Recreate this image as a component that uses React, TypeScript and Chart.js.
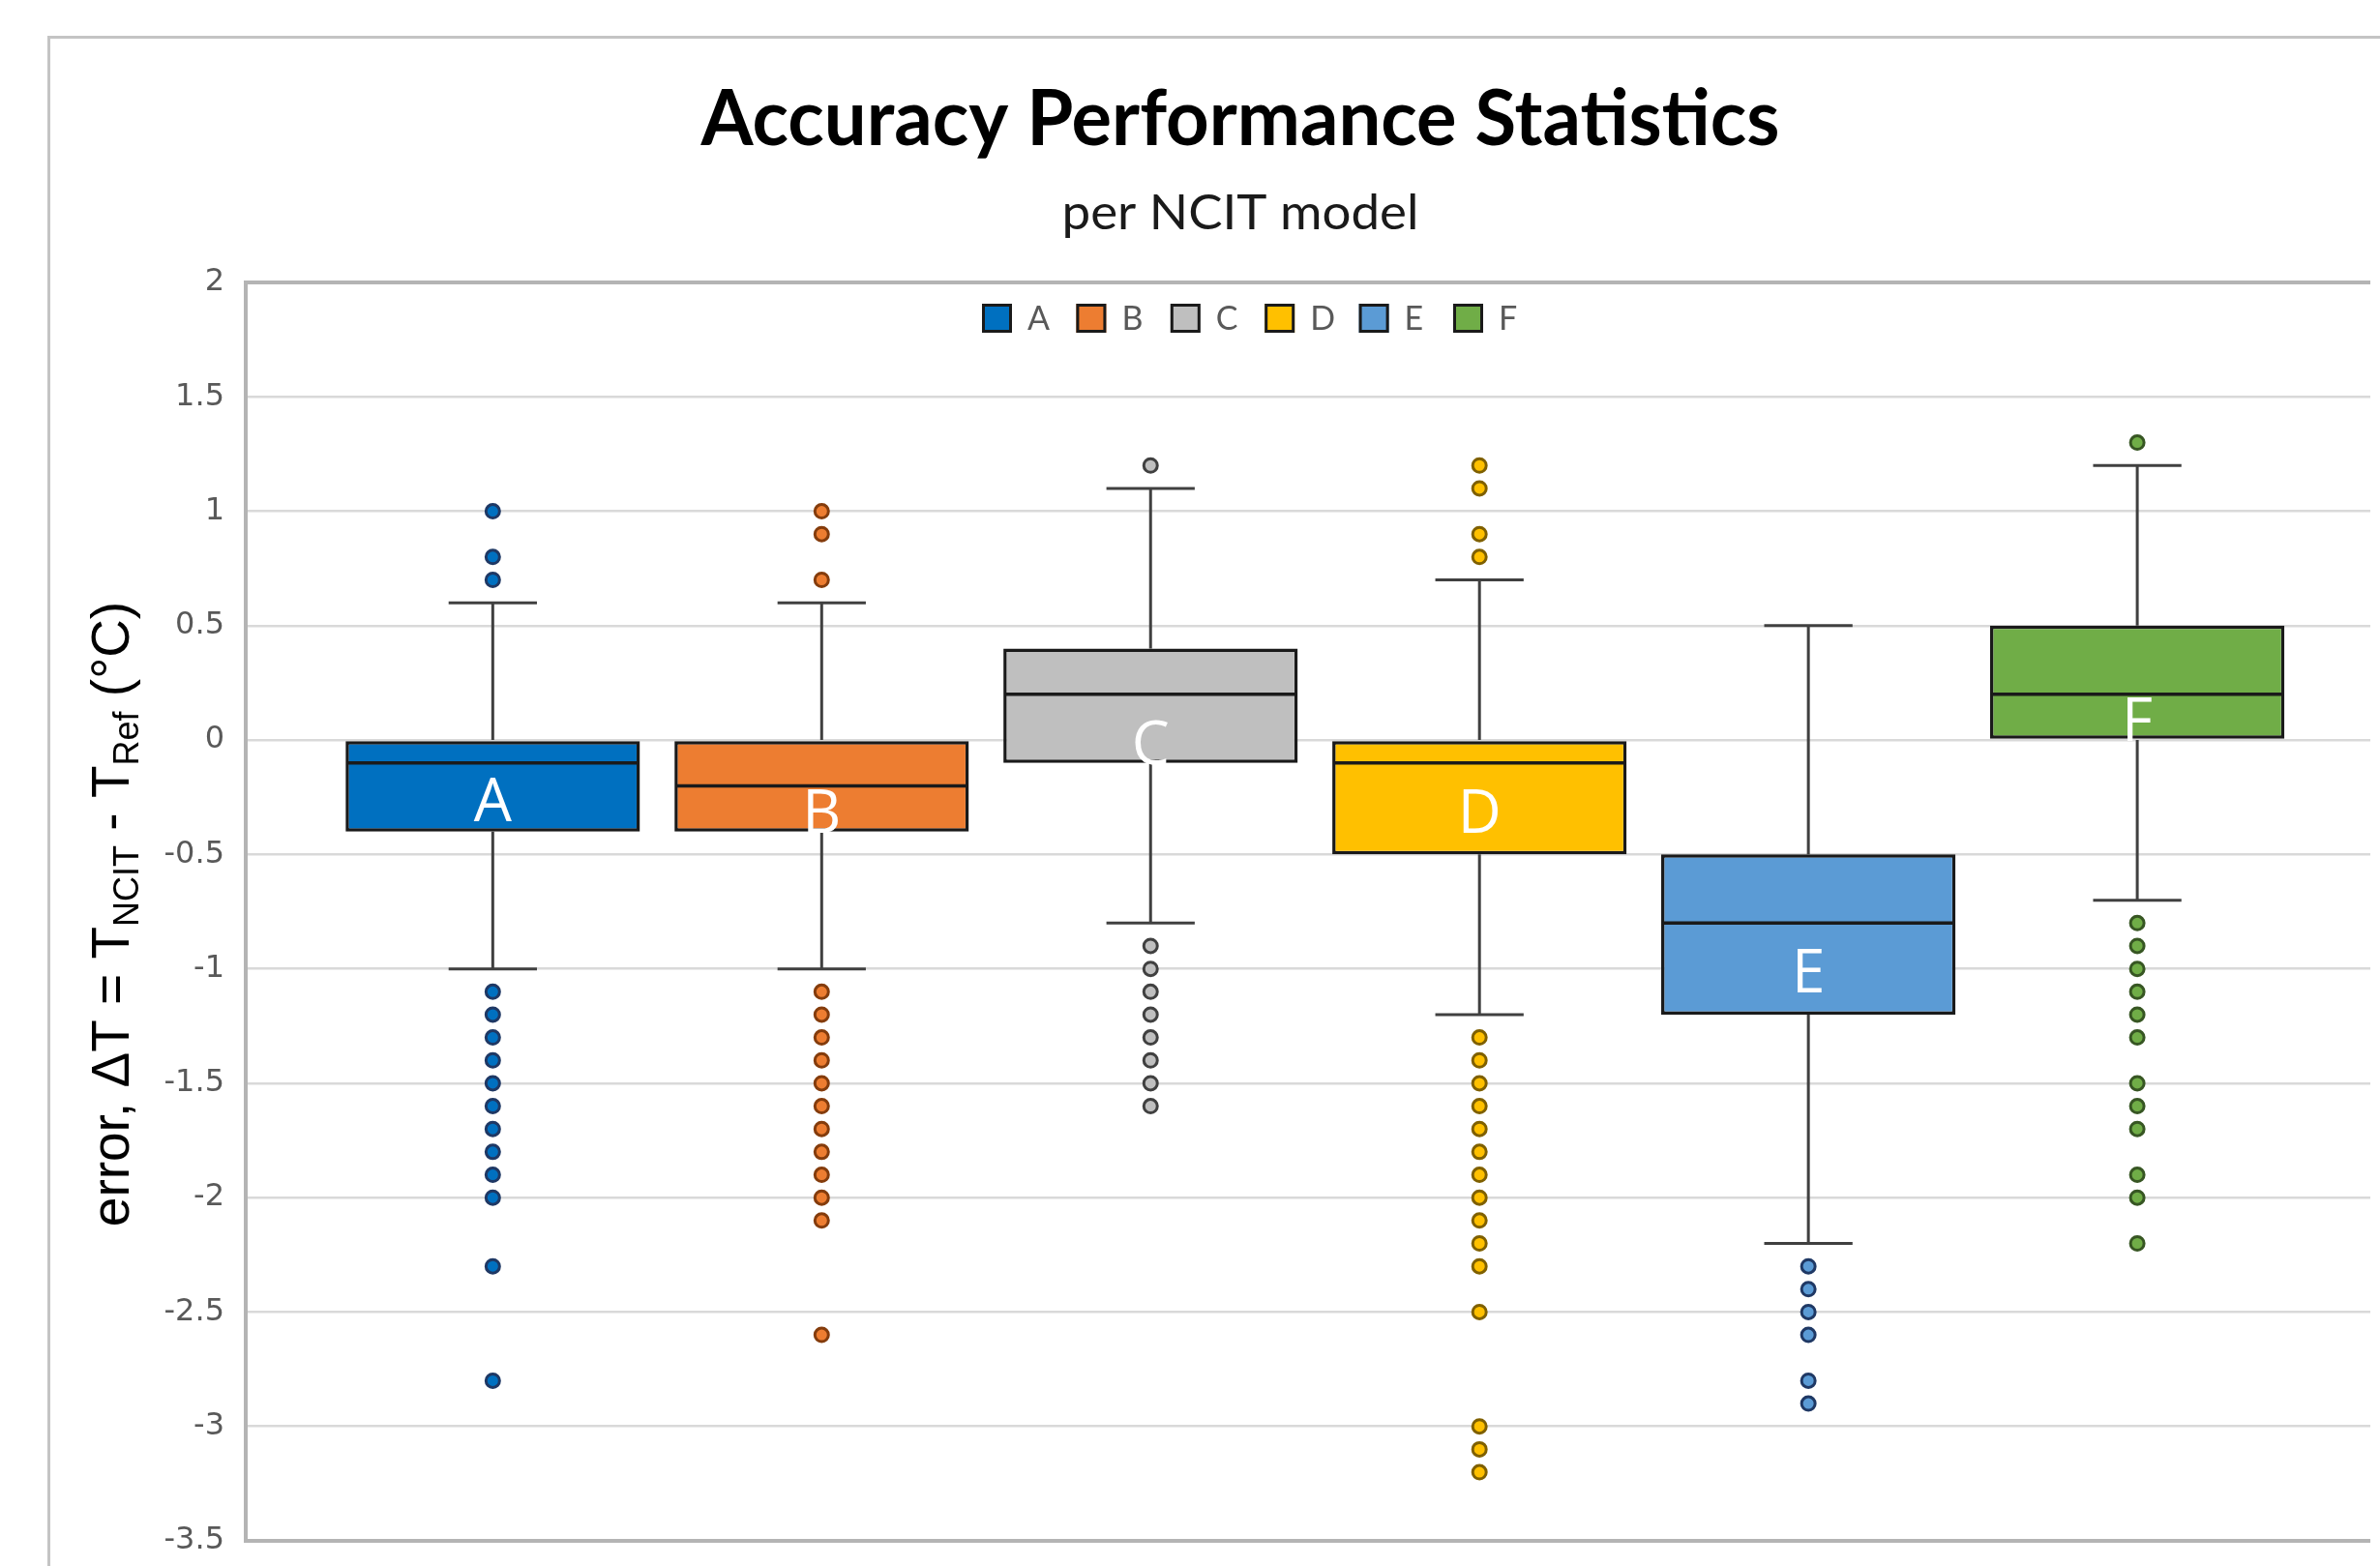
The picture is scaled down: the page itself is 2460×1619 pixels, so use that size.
import React, { useEffect, useRef } from 'react';
import { Chart, registerables } from 'chart.js';

Chart.register(...registerables);

// ---------------- data ----------------
const categories = ['A', 'B', 'C', 'D', 'E', 'F'];
const positions = [1, 2, 3, 4, 5, 6];
const boxColors = ['#0070C0', '#ED7D31', '#BFBFBF', '#FFC000', '#5B9BD5', '#70AD47'];
const dotEdgeColors = ['#1F3864', '#843C0C', '#404040', '#7F6000', '#1F3864', '#375623'];

const q1Values = [-0.4, -0.4, -0.1, -0.5, -1.2, 0.0];
const q3Values = [0.0, 0.0, 0.4, 0.0, -0.5, 0.5];
const medianValues = [-0.1, -0.2, 0.2, -0.1, -0.8, 0.2];
const whiskerLowValues = [-1.0, -1.0, -0.8, -1.2, -2.2, -0.7];
const whiskerHighValues = [0.6, 0.6, 1.1, 0.7, 0.5, 1.2];
const labelValues = [-0.25, -0.3, 0.0, -0.3, -1.0, 0.1];

const outliersA = [1.0, 0.8, 0.7, -1.1, -1.2, -1.3, -1.4, -1.5, -1.6, -1.7, -1.8, -1.9, -2.0, -2.3, -2.8];
const outliersB = [1.0, 0.9, 0.7, -1.1, -1.2, -1.3, -1.4, -1.5, -1.6, -1.7, -1.8, -1.9, -2.0, -2.1, -2.6];
const outliersC = [1.2, -0.9, -1.0, -1.1, -1.2, -1.3, -1.4, -1.5, -1.6];
const outliersD = [1.2, 1.1, 0.9, 0.8, -1.3, -1.4, -1.5, -1.6, -1.7, -1.8, -1.9, -2.0, -2.1, -2.2, -2.3, -2.5, -3.0, -3.1, -3.2];
const outliersE = [-2.3, -2.4, -2.5, -2.6, -2.8, -2.9];
const outliersF = [1.3, -0.8, -0.9, -1.0, -1.1, -1.2, -1.3, -1.5, -1.6, -1.7, -1.9, -2.0, -2.2];
const outliers = [outliersA, outliersB, outliersC, outliersD, outliersE, outliersF];

const yTickValues = [2, 1.5, 1, 0.5, 0, -0.5, -1, -1.5, -2, -2.5, -3, -3.5];
const yTickLabels = ['2', '1.5', '1', '0.5', '0', '-0.5', '-1', '-1.5', '-2', '-2.5', '-3', '-3.5'];

const titleText = 'Accuracy Performance Statistics';
const subtitleText = 'per NCIT model';
const yTitleParts = [
  { text: 'error, ΔT = T', sub: false },
  { text: 'NCIT', sub: true },
  { text: ' - T', sub: false },
  { text: 'Ref', sub: true },
  { text: ' (°C)', sub: false },
];

// ---------------- layout ----------------
const W = 2460;
const H = 1619;
const CANVAS_H = 1660; // taller than the view so the bottom label padding fits; clipped by the wrapper
const PLOT_LEFT = 254;
const PLOT_TOP = 292;
const PLOT_BOTTOM = 1593;
const X_MIN = 0.2489;
const X_MAX = 6.7086;

function drawFitted(ctx: CanvasRenderingContext2D, text: string, font: string, cx: number, baseline: number, targetW: number, color: string) {
  ctx.save();
  ctx.font = font;
  ctx.fillStyle = color;
  ctx.textAlign = 'center';
  ctx.textBaseline = 'alphabetic';
  const w = ctx.measureText(text).width;
  const sx = w > 0 ? targetW / w : 1;
  ctx.translate(cx, baseline);
  ctx.scale(sx, 1);
  ctx.fillText(text, 0, 0);
  ctx.restore();
}

const decorPlugin = {
  id: 'decor',
  beforeDraw(chart: any) {
    const ctx = chart.ctx as CanvasRenderingContext2D;
    ctx.save();
    ctx.fillStyle = '#ffffff';
    ctx.fillRect(0, 0, W, CANVAS_H);
    ctx.strokeStyle = '#c4c4c4';
    ctx.lineWidth = 3;
    ctx.beginPath();
    ctx.moveTo(50.5, CANVAS_H);
    ctx.lineTo(50.5, 38.5);
    ctx.lineTo(W, 38.5);
    ctx.stroke();
    ctx.restore();
  },
  beforeDatasetsDraw(chart: any) {
    const ctx = chart.ctx as CanvasRenderingContext2D;
    const y = chart.scales.y;
    ctx.save();
    ctx.strokeStyle = '#404040';
    ctx.lineWidth = 3;
    categories.forEach((_, i) => {
      const el = chart.getDatasetMeta(i).data[0];
      if (!el) return;
      const x = el.x;
      const half = el.width * 0.15;
      const yLo = y.getPixelForValue(whiskerLowValues[i]);
      const yHi = y.getPixelForValue(whiskerHighValues[i]);
      const yQ1 = y.getPixelForValue(q1Values[i]);
      const yQ3 = y.getPixelForValue(q3Values[i]);
      ctx.beginPath();
      ctx.moveTo(x, yHi);
      ctx.lineTo(x, yQ3);
      ctx.moveTo(x, yQ1);
      ctx.lineTo(x, yLo);
      ctx.moveTo(x - half, yHi);
      ctx.lineTo(x + half, yHi);
      ctx.moveTo(x - half, yLo);
      ctx.lineTo(x + half, yLo);
      ctx.stroke();
    });
    ctx.restore();
  },
  afterDatasetsDraw(chart: any) {
    const ctx = chart.ctx as CanvasRenderingContext2D;
    const y = chart.scales.y;
    ctx.save();
    categories.forEach((name, i) => {
      const el = chart.getDatasetMeta(i).data[0];
      if (!el) return;
      const x = el.x;
      const half = el.width / 2;
      const ym = y.getPixelForValue(medianValues[i]);
      ctx.strokeStyle = '#1a1a1a';
      ctx.lineWidth = 3.5;
      ctx.beginPath();
      ctx.moveTo(x - half + 1, ym);
      ctx.lineTo(x + half - 1, ym);
      ctx.stroke();
      ctx.fillStyle = '#ffffff';
      ctx.font = '62px "Open Sans"';
      ctx.textAlign = 'center';
      ctx.textBaseline = 'middle';
      ctx.fillText(name, x, y.getPixelForValue(labelValues[i]) + 7);
    });
    ctx.restore();
  },
  afterDraw(chart: any) {
    const ctx = chart.ctx as CanvasRenderingContext2D;
    // titles
    drawFitted(ctx, titleText, 'bold 80px Lato', 1282, 150, 1115, '#000000');
    drawFitted(ctx, subtitleText, '50px Lato', 1282, 237, 369, '#1a1a1a');

    // y-axis title with subscripts
    const mainFont = '55px "Liberation Sans"';
    const subFont = '36px "Liberation Sans"';
    ctx.save();
    let total = 0;
    const widths = yTitleParts.map((p) => {
      ctx.font = p.sub ? subFont : mainFont;
      const w = ctx.measureText(p.text).width;
      total += w;
      return w;
    });
    ctx.translate(118, 945);
    ctx.rotate(-Math.PI / 2);
    ctx.fillStyle = '#000000';
    ctx.textAlign = 'left';
    ctx.textBaseline = 'alphabetic';
    let cx = -total / 2;
    yTitleParts.forEach((p, k) => {
      ctx.font = p.sub ? subFont : mainFont;
      ctx.fillText(p.text, cx, p.sub ? 25 : 15);
      cx += widths[k];
    });
    ctx.restore();

    // legend
    ctx.save();
    const startX = 1015;
    const pitch = 97.4;
    const top = 314;
    categories.forEach((name, i) => {
      const ds = chart.data.datasets[i];
      const lx = startX + i * pitch;
      ctx.fillStyle = ds.backgroundColor as string;
      ctx.fillRect(lx, top, 31, 30);
      ctx.strokeStyle = '#1a1a1a';
      ctx.lineWidth = 3;
      ctx.strokeRect(lx + 1.5, top + 1.5, 28, 27);
      ctx.fillStyle = '#595959';
      ctx.font = '34px Lato';
      ctx.textAlign = 'left';
      ctx.textBaseline = 'middle';
      ctx.fillText(ds.label, lx + 31 + 16, top + 16);
    });
    ctx.restore();
  },
};

function buildConfig(): any {
  const barSets = categories.map((name, i) => ({
    type: 'bar',
    label: name,
    data: [{ x: positions[i], y: [q1Values[i], q3Values[i]] }],
    backgroundColor: boxColors[i],
    borderColor: '#1a1a1a',
    borderWidth: 3.5,
    borderSkipped: false,
    grouped: false,
    categoryPercentage: 1,
    barPercentage: 0.895,
    order: 2,
  }));
  const dotSets = categories.map((name, i) => ({
    type: 'scatter',
    label: name + ' outliers',
    data: outliers[i].map((v) => ({ x: positions[i], y: v })),
    backgroundColor: boxColors[i],
    borderColor: dotEdgeColors[i],
    borderWidth: 3,
    pointRadius: 7,
    pointHoverRadius: 7,
    order: 1,
  }));
  return {
    type: 'bar',
    data: { datasets: [...barSets, ...dotSets] },
    options: {
      responsive: false,
      devicePixelRatio: 1,
      animation: false,
      events: [],
      layout: { padding: { top: PLOT_TOP, bottom: CANVAS_H - PLOT_BOTTOM, left: 0, right: 0 } },
      plugins: {
        legend: { display: false },
        title: { display: false },
        tooltip: { enabled: false },
      },
      scales: {
        x: {
          type: 'linear',
          display: false,
          offset: false,
          min: X_MIN,
          max: X_MAX,
          grid: { offset: false },
          afterBuildTicks: (scale: any) => {
            scale.ticks = positions.map((v) => ({ value: v }));
          },
        },
        y: {
          type: 'linear',
          min: -3.5,
          max: 2,
          afterFit: (scale: any) => {
            scale.width = PLOT_LEFT;
          },
          afterBuildTicks: (scale: any) => {
            scale.ticks = yTickValues.map((v) => ({ value: v }));
          },
          ticks: {
            padding: 22,
            color: '#595959',
            font: { family: '"DejaVu Sans"', size: 32 },
            callback: (value: number) => {
              const k = yTickValues.indexOf(value);
              return k >= 0 ? yTickLabels[k] : '';
            },
          },
          grid: {
            drawTicks: false,
            color: (c: any) => (c.tick && (c.tick.value === 2 || c.tick.value === -3.5) ? '#b4b4b4' : '#d9d9d9'),
            lineWidth: (c: any) => (c.tick && (c.tick.value === 2 || c.tick.value === -3.5) ? 4 : 2.5),
          },
          border: { display: true, color: '#b4b4b4', width: 4 },
        },
      },
    },
    plugins: [decorPlugin],
  };
}

export default function App() {
  const ref = useRef<HTMLCanvasElement>(null);
  useEffect(() => {
    if (!ref.current) return;
    const chart = new Chart(ref.current, buildConfig());
    return () => chart.destroy();
  }, []);
  return (
    <div style={{ position: 'fixed', left: 0, top: 0, width: W, height: H, background: '#ffffff', overflow: 'hidden' }}>
      <canvas ref={ref} width={W} height={CANVAS_H} style={{ width: W, height: CANVAS_H, display: 'block' }} />
    </div>
  );
}
